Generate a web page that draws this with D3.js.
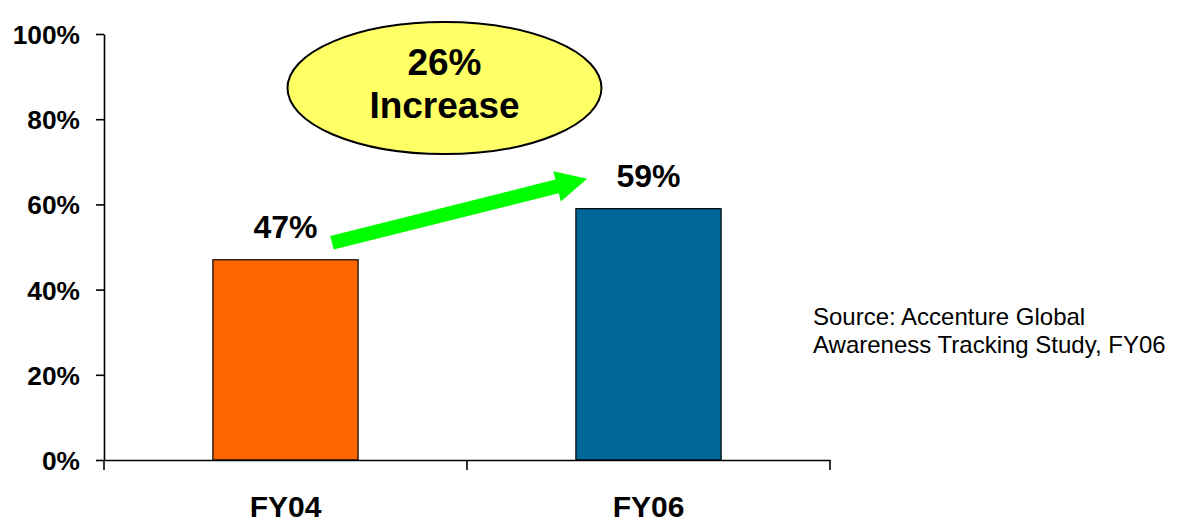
<!DOCTYPE html>
<html>
<head>
<meta charset="utf-8">
<script src="https://cdn.jsdelivr.net/npm/d3@7"></script>
<style>
  html, body { margin: 0; padding: 0; background: #fff; }
  svg { display: block; font-family: "Liberation Sans", Arial, sans-serif; }
</style>
</head>
<body>
<svg id="chart" width="1188" height="525"></svg>
<script>
// ---- data ----
const categories = ["FY04", "FY06"];
const values = [47, 59];
const barColors = ["#FF6600", "#006699"];
const yTicks = [0, 20, 40, 60, 80, 100];
const calloutLines = ["26%", "Increase"];
const sourceLines = ["Source: Accenture Global", "Awareness Tracking Study, FY06"];

// ---- layout ----
const W = 1188, H = 525;
const plot = { left: 104, right: 830, top: 34, bottom: 460 };
const svg = d3.select("#chart");

const x = d3.scaleBand().domain(categories).range([plot.left, plot.right]).padding(0);
const y = d3.scaleLinear().domain([0, 100]).range([plot.bottom, plot.top]);
const step = x.step();
const barW = step * 0.4;
const barOff = (step - barW) / 2;

// bars
svg.append("g").selectAll("rect").data(categories).join("rect")
  .attr("x", (d) => x(d) + barOff)
  .attr("y", (d, i) => y(values[i]))
  .attr("width", barW)
  .attr("height", (d, i) => y(0) - y(values[i]))
  .attr("fill", (d, i) => barColors[i])
  .attr("stroke", "#000")
  .attr("stroke-width", 1.2);

// y axis
const yAxis = svg.append("g")
  .attr("transform", `translate(${plot.left},0)`)
  .call(d3.axisLeft(y).tickValues(yTicks).tickSize(8).tickSizeOuter(0).tickPadding(16)
    .tickFormat((d) => d + "%"));
yAxis.select(".domain").attr("stroke", "#000").attr("stroke-width", 1.6);
yAxis.selectAll(".tick line").attr("stroke", "#000").attr("stroke-width", 1.6);
yAxis.selectAll(".tick text")
  .attr("fill", "#000").attr("font-size", 26.3).attr("font-weight", "bold")
  .attr("font-family", "'Liberation Sans', Arial, sans-serif")
  .attr("dy", "0.36em");

// x axis
const xAxis = svg.append("g")
  .attr("transform", `translate(0,${plot.bottom})`)
  .call(d3.axisBottom(x).tickSize(0).tickSizeOuter(0).tickPadding(0));
xAxis.select(".domain").attr("stroke", "#000").attr("stroke-width", 1.6);
xAxis.selectAll(".tick text")
  .attr("fill", "#000").attr("font-size", 30).attr("font-weight", "bold")
  .attr("font-family", "'Liberation Sans', Arial, sans-serif")
  .attr("y", 57).attr("dy", 0);
// category boundary ticks
const boundaries = categories.map((c) => x(c)).concat([plot.right]);
xAxis.selectAll("line.bound").data(boundaries).join("line")
  .attr("class", "bound")
  .attr("x1", (d) => d).attr("x2", (d) => d)
  .attr("y1", 0).attr("y2", 10)
  .attr("stroke", "#000").attr("stroke-width", 1.6);

// value labels
svg.append("g").selectAll("text").data(categories).join("text")
  .attr("x", (d) => x(d) + step / 2)
  .attr("y", (d, i) => y(values[i]) - 22)
  .attr("text-anchor", "middle")
  .attr("font-size", 32).attr("font-weight", "bold").attr("fill", "#000")
  .text((d, i) => values[i] + "%");

// green arrow (annotation between the two bars)
const tail = [x(categories[0]) + step * 0.628, y(51)];
const tip = [x(categories[1]) + step * 0.331, y(66)];
const dx = tip[0] - tail[0], dy = tip[1] - tail[1];
const len = Math.hypot(dx, dy);
const ang = Math.atan2(dy, dx) * 180 / Math.PI;
const sw = 7, hl = 31, hw = 15.5;
const arrowPts = [[0, -sw], [len - hl, -sw], [len - hl, -hw], [len, 0], [len - hl, hw], [len - hl, sw], [0, sw]];
svg.append("polygon")
  .attr("points", arrowPts.map((p) => p.join(",")).join(" "))
  .attr("transform", `translate(${tail[0]},${tail[1]}) rotate(${ang})`)
  .attr("fill", "#00FF00");

// callout ellipse
const ecx = x(categories[0]) + step * 0.938;
const ecy = y(87.3);
svg.append("ellipse")
  .attr("cx", ecx).attr("cy", ecy).attr("rx", 157).attr("ry", 66)
  .attr("fill", "#FFFF66").attr("stroke", "#000").attr("stroke-width", 2);
svg.append("g").selectAll("text").data(calloutLines).join("text")
  .attr("x", ecx)
  .attr("y", (d, i) => ecy - 13 + i * 43)
  .attr("text-anchor", "middle")
  .attr("font-size", 37).attr("font-weight", "bold").attr("fill", "#000")
  .text((d) => d);

// source note
svg.append("g").selectAll("text").data(sourceLines).join("text")
  .attr("x", 813)
  .attr("y", (d, i) => 325 + i * 28)
  .attr("font-size", 24).attr("fill", "#000")
  .text((d) => d);
</script>
</body>
</html>
